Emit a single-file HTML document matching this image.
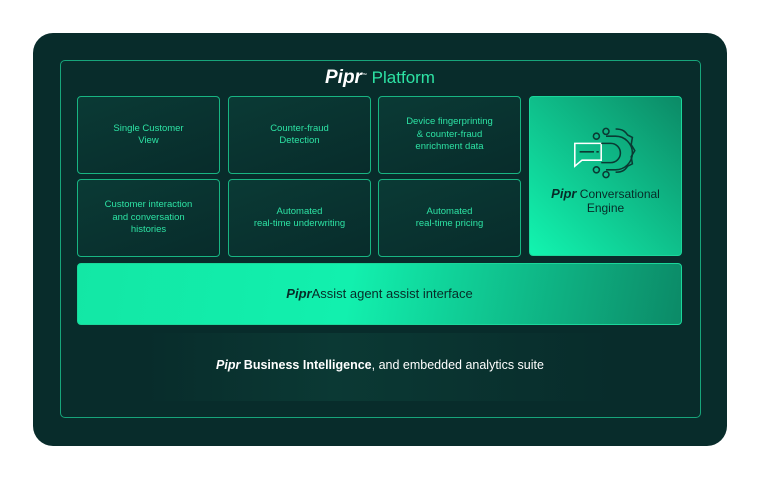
<!DOCTYPE html>
<html><head><style>
body{margin:0;width:760px;height:480px;background:#fff;position:relative;font-family:"Liberation Sans",sans-serif;overflow:hidden}
.outer{position:absolute;left:33px;top:33px;width:694px;height:413px;background:#082c2b;border-radius:20px}
.inner{position:absolute;left:60px;top:60px;width:639px;height:356px;border:1.5px solid #17a47a;border-radius:5px}
.box{position:absolute;border:1.5px solid #18b582;border-radius:4px;background:linear-gradient(160deg,#0a3a35,#082c2b);color:#2de3a4;font-size:9.5px;line-height:12.5px;display:flex;align-items:center;justify-content:center;text-align:center;box-sizing:border-box}
.t{position:absolute;left:0;width:760px;top:67px;text-align:center;color:#2de3a4;font-size:17px}
.t b{color:#fff;font-style:italic;font-weight:900;font-size:19px}
</style></head><body>
<div class="outer"></div>
<div class="inner"></div>
<div class="t"><b>Pipr</b><sup style="font-size:5px;color:#fff">™</sup> Platform</div>
<div class="box" style="left:77px;top:96px;width:143px;height:78px">Single Customer<br>View</div>
<div class="box" style="left:228px;top:96px;width:143px;height:78px">Counter-fraud<br>Detection</div>
<div class="box" style="left:378px;top:96px;width:143px;height:78px">Device fingerprinting<br>&amp; counter-fraud<br>enrichment data</div>
<div class="box" style="left:77px;top:179px;width:143px;height:78px">Customer interaction<br>and conversation<br>histories</div>
<div class="box" style="left:228px;top:179px;width:143px;height:78px">Automated<br>real-time underwriting</div>
<div class="box" style="left:378px;top:179px;width:143px;height:78px">Automated<br>real-time pricing</div>
<div class="box" style="left:529px;top:96px;width:153px;height:160px;background:linear-gradient(45deg,#12f5b0,#0c8a66);color:#072b28;font-size:12px;line-height:14px;flex-direction:column;border-color:#1ad79a">
<svg width="60" height="48" viewBox="0 0 60 48" style="margin-top:-8px;margin-bottom:10px;transform:scale(1.2)" fill="none" stroke="#0a3a33" stroke-width="1.3">
<path d="M4 16h22v14H10l-6 5z" stroke="#fff"/><path d="M8 23h12M22 23h2"/>
<path d="M26 16h8a8 8 0 0 1 0 16h-8"/><path d="M30 10h8a14 14 0 0 1 0 28h-8"/>
<path d="M38 4c6 0 8 2 10 5l4 2-1 6 3 5-3 5 1 6-4 2c-2 3-4 5-10 5"/>
<circle cx="30" cy="6" r="2.5"/><circle cx="22" cy="10" r="2.5"/><circle cx="22" cy="38" r="2.5"/><circle cx="30" cy="42" r="2.5"/>
</svg>
<div><b><i style="font-size:13px">Pipr</i></b> Conversational<br>Engine</div></div>
<div class="box" style="left:77px;top:263px;width:605px;height:62px;background:linear-gradient(100deg,#13e7a5 0%,#12f0ae 45%,#0c8a67 100%);color:#072b28;font-size:13px;border-color:#1ad79a"><span><b><i>Pipr</i></b>Assist agent assist interface</span></div>
<div style="position:absolute;left:145px;top:333px;width:470px;height:68px;background:linear-gradient(90deg,#082c2b,#0b3934 40%,#082c2b)"></div>
<div style="position:absolute;left:0;width:760px;top:358px;text-align:center;color:#fff;font-size:12.5px"><b><i>Pipr</i> Business Intelligence</b>, and embedded analytics suite</div>
</body></html>
